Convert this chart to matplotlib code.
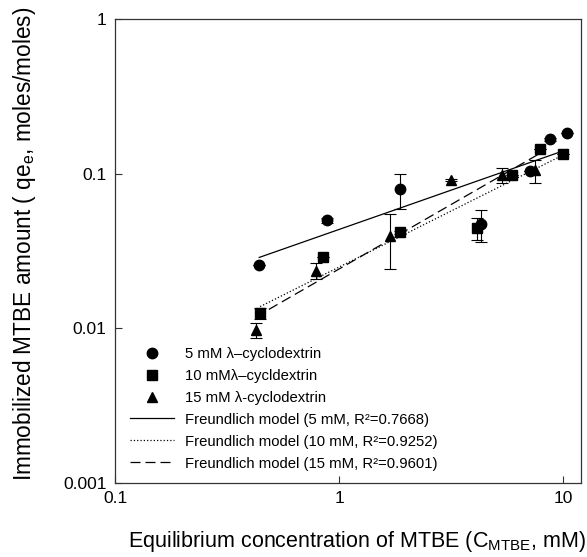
import numpy as np
import matplotlib
matplotlib.use("Agg")
import matplotlib.pyplot as plt

plt.rcParams['font.family'] = ['Liberation Sans', 'DejaVu Sans']
plt.rcParams['mathtext.fontset'] = 'custom'
plt.rcParams['mathtext.rm'] = 'Liberation Sans'
plt.rcParams['mathtext.it'] = 'Liberation Sans'

# ---------- dados ----------
# 5 mM
x5 = [0.44, 0.88, 1.87, 4.29, 7.13, 8.75, 10.4]
y5 = [0.0257, 0.050, 0.0796, 0.047, 0.1045, 0.167, 0.184]
e5 = [0.0, 0.002, 0.0205, 0.011, 0.0, 0.004, 0.0]

# 10 mM
x10 = [0.444, 0.851, 1.87, 4.12, 5.9, 7.9, 10.0]
y10 = [0.0125, 0.0288, 0.0418, 0.0444, 0.098, 0.145, 0.135]
e10 = [0.001, 0.0, 0.001, 0.007, 0.0, 0.0, 0.0]

# 15 mM
x15 = [0.425, 0.787, 1.68, 3.16, 5.33, 7.5]
y15 = [0.0097, 0.0236, 0.0393, 0.091, 0.0975, 0.105]
e15 = [0.0011, 0.0028, 0.0152, 0.002, 0.0107, 0.018]

# modelo de Freundlich: q = K * C^(1/n)
K = [0.0436, 0.0249, 0.0242]
inv_n = [0.508, 0.725, 0.834]
faixa = [(0.44, 10.4), (0.444, 10.0), (0.425, 8.0)]

rotulos = ["5 mM \u03bb\u2013cyclodextrin",
           "10 mM\u03bb\u2013cycldextrin",
           "15 mM \u03bb-cyclodextrin",
           "Freundlich model (5 mM, R\u00b2=0.7668)",
           "Freundlich model (10 mM, R\u00b2=0.9252)",
           "Freundlich model (15 mM, R\u00b2=0.9601)"]

fig = plt.figure(figsize=(5.87, 5.57), dpi=100)
ax = fig.add_axes([115/587, 1 - 483/557, (581 - 115)/587, (483 - 19)/557])

ek = dict(fmt='none', ecolor='black', elinewidth=0.8, capsize=4, capthick=0.8)
ax.errorbar(x5, y5, yerr=e5, **ek)
ax.errorbar(x10, y10, yerr=e10, **ek)
ax.errorbar(x15, y15, yerr=e15, **ek)
h1, = ax.plot(x5, y5, 'o', color='black', markersize=7.5)
h2, = ax.plot(x10, y10, 's', color='black', markersize=6.5)
h3, = ax.plot(x15, y15, '^', color='black', markersize=7.5)

estilos = ['-', ':', (0, (8, 4))]
linhas = []
for k, m, (a, b), ls in zip(K, inv_n, faixa, estilos):
    xs = np.geomspace(a, b, 50)
    l, = ax.plot(xs, k * xs ** m, color='black', linestyle=ls, linewidth=0.9)
    linhas.append(l)

ax.set_xscale('log')
ax.set_yscale('log')
ax.set_xlim(0.1, 12)
ax.set_ylim(0.001, 1)
ax.set_xticks([0.1, 1, 10])
ax.set_xticklabels(['0.1', '1', '10'])
ax.set_yticks([0.001, 0.01, 0.1, 1])
ax.set_yticklabels(['0.001', '0.01', '0.1', '1'])
ax.minorticks_off()
ax.tick_params(direction='in', length=5, width=0.8, labelsize=12.5, pad=6, color='#333333')
for s in ax.spines.values():
    s.set_linewidth(0.9)
    s.set_color('#333333')

ax.set_xlabel("Equilibrium concentration of MTBE (C$_{\\mathrm{MTBE}}$, mM)", fontsize=15.5)
ax.set_ylabel("Immobilized MTBE amount ( qe$_e$, moles/moles)", fontsize=16.3)
ax.xaxis.set_label_coords(0.52, -0.1)
ax.yaxis.set_label_coords(-0.165, 0.515)

handles = [h1, h2, h3] + linhas
leg = ax.legend(handles, rotulos, loc='upper left', bbox_to_anchor=(0.032, 0.2935),
                frameon=False, fontsize=10.7, handlelength=2.95, handletextpad=0.74,
                labelspacing=0.535, borderpad=0, borderaxespad=0)

fig.savefig("out.png", dpi=100)
